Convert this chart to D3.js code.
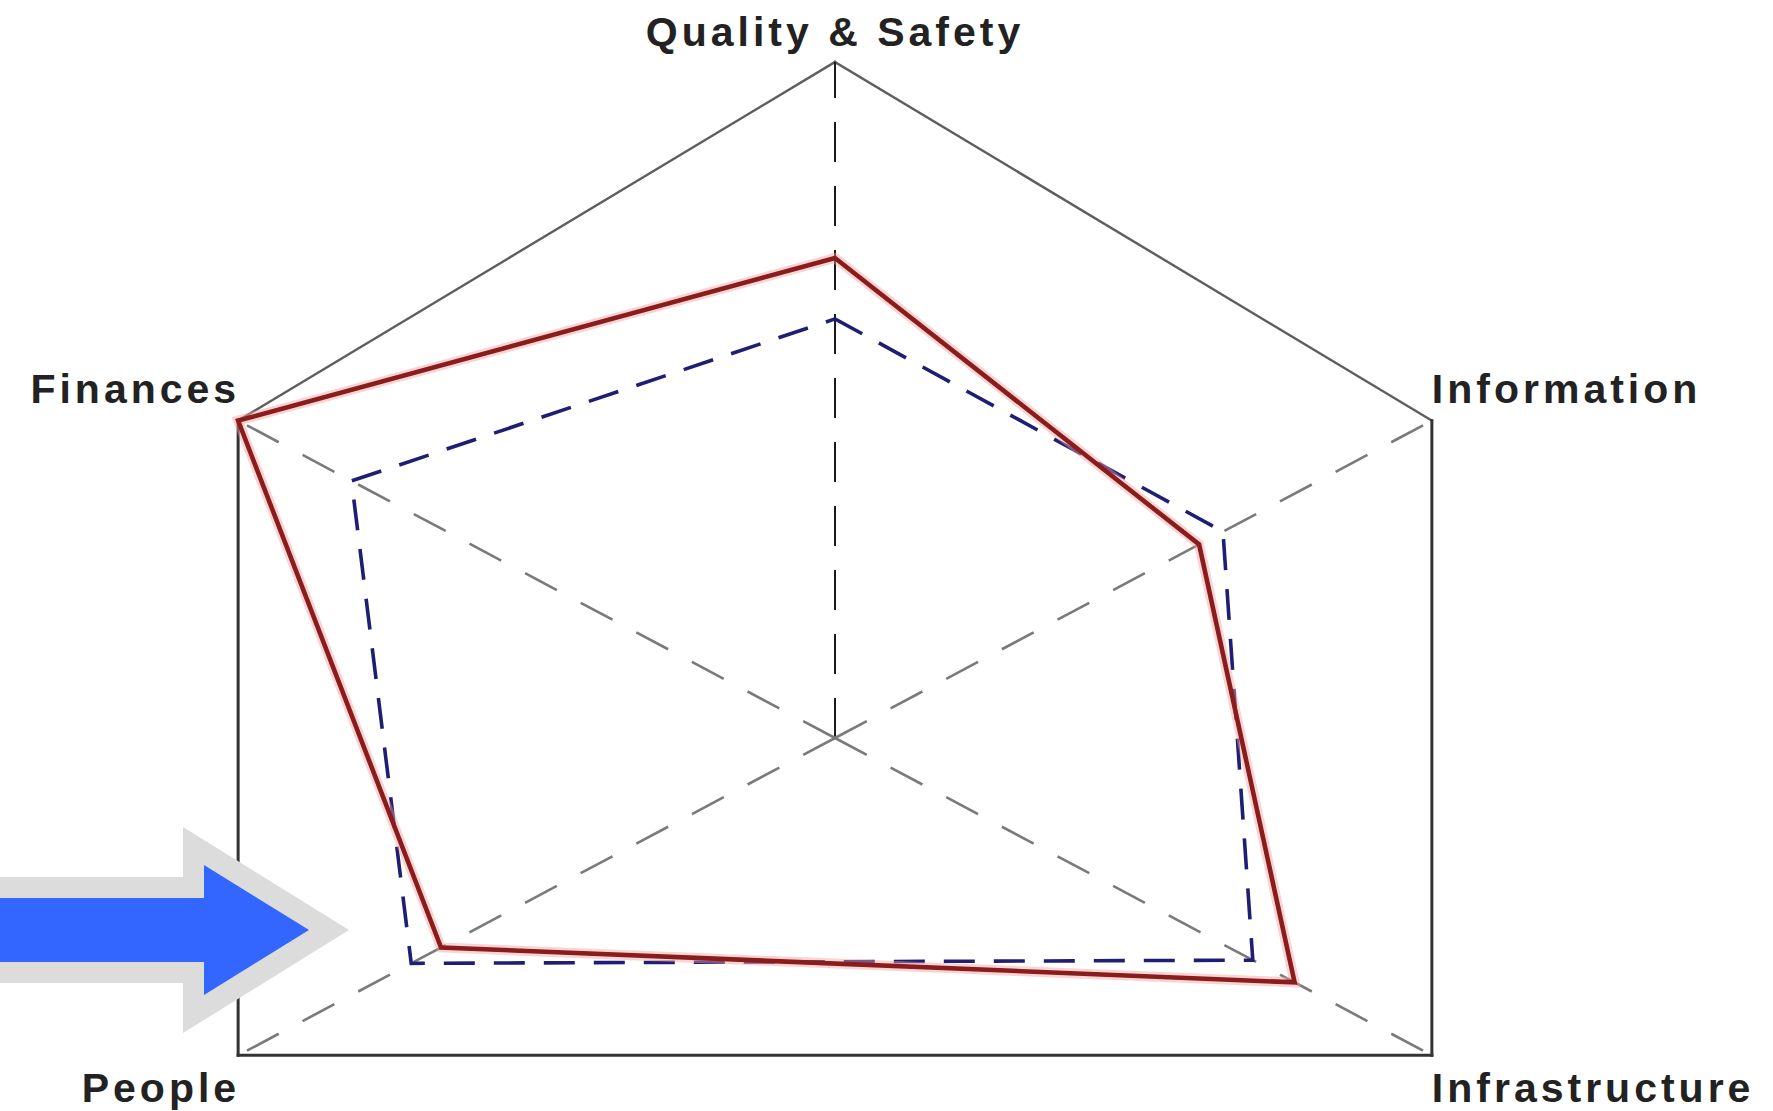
<!DOCTYPE html>
<html>
<head>
<meta charset="utf-8">
<script src="https://cdn.jsdelivr.net/npm/d3@7"></script>
<style>
  html, body { margin: 0; padding: 0; background: #fff; }
  svg { display: block; }
  .label { font-family: "Liberation Sans", Arial, sans-serif; font-weight: bold; font-size: 41px; fill: #222; letter-spacing: 4px; }
</style>
</head>
<body>
<div id="chart"></div>
<script>
// data
var axes = ["Quality & Safety", "Information", "Infrastructure", "People", "Finances"];
var seriesRed = [71, 61, 77, 66, 100];
var seriesBlue = [62, 65, 70, 71, 81];
var maxValue = 100;

// layout (the original grid is not a regular pentagon)
var axisAngles = [0, 62, 118, 242, 298]; // degrees, clockwise from top
var width = 1773, height = 1111;
var cx = 835, cy = 738, radius = 676;

var svg = d3.select("#chart").append("svg")
    .attr("width", width)
    .attr("height", height);

var r = d3.scaleLinear().domain([0, maxValue]).range([0, radius]);
var angle = function(i) { return axisAngles[i] * Math.PI / 180; };
var px = function(v, i) { return r(v) * Math.sin(angle(i)); };
var py = function(v, i) { return -r(v) * Math.cos(angle(i)); };

var g = svg.append("g").attr("transform", "translate(" + cx + "," + cy + ")");

//Outer frame, one edge at a time (top edges are lighter in the original)
g.selectAll(".edge").data(axes).enter().append("line")
    .attr("class", "edge")
    .attr("x1", function(d, i) { return px(maxValue, i); })
    .attr("y1", function(d, i) { return py(maxValue, i); })
    .attr("x2", function(d, i) { return px(maxValue, (i + 1) % axes.length); })
    .attr("y2", function(d, i) { return py(maxValue, (i + 1) % axes.length); })
    .attr("stroke", function(d, i) { return (i === 0 || i === axes.length - 1) ? "#5e5e5e" : "#333"; })
    .attr("stroke-width", function(d, i) { return (i === 0 || i === axes.length - 1) ? 2.4 : 3; })
    .attr("stroke-linecap", "square");

//Dashed spokes
g.selectAll(".spoke").data(axes).enter().append("line")
    .attr("class", "spoke")
    .attr("x1", 0).attr("y1", 0)
    .attr("x2", function(d, i) { return px(maxValue, i); })
    .attr("y2", function(d, i) { return py(maxValue, i); })
    .attr("stroke", function(d, i) { return i === 0 ? "#1a1a1a" : "#7a7a7a"; })
    .attr("stroke-width", function(d, i) { return i === 0 ? 2 : 2.6; })
    .attr("stroke-dasharray", function(d, i) { return i === 0 ? "40,24" : "36,27"; });

//Series
var line = d3.lineRadial()
    .angle(function(d, i) { return angle(i); })
    .radius(function(d) { return r(d); })
    .curve(d3.curveLinearClosed);

g.append("path")
    .attr("d", line(seriesBlue))
    .attr("fill", "none")
    .attr("stroke", "#1e1e74")
    .attr("stroke-width", 3.6)
    .attr("stroke-dasharray", "31,19");

g.append("path")
    .attr("d", line(seriesRed))
    .attr("fill", "none")
    .attr("stroke", "#f2a0a0")
    .attr("stroke-opacity", 0.45)
    .attr("stroke-width", 10)
    .attr("stroke-linejoin", "miter");

g.append("path")
    .attr("d", line(seriesRed))
    .attr("fill", "none")
    .attr("stroke", "#8a1c1c")
    .attr("stroke-width", 4.6)
    .attr("stroke-linejoin", "miter");

//Axis labels
var labelPos = [
    { dx: 0, dy: -16, anchor: "middle" },
    { dx: 0, dy: -18, anchor: "start" },
    { dx: 0, dy: 47, anchor: "start" },
    { dx: 2, dy: 47, anchor: "end" },
    { dx: 2, dy: -18, anchor: "end" }
];

g.selectAll(".label").data(axes).enter().append("text")
    .attr("class", "label")
    .attr("x", function(d, i) { return px(maxValue, i) + labelPos[i].dx; })
    .attr("y", function(d, i) { return py(maxValue, i) + labelPos[i].dy; })
    .attr("text-anchor", function(d, i) { return labelPos[i].anchor; })
    .text(function(d) { return d; });

//Pointer arrow on the left
var arrowOuter = [[0, 877], [183, 877], [183, 827], [349, 930], [183, 1033], [183, 983], [0, 983]];
var arrowInner = [[0, 898], [204, 898], [204, 865], [309, 930], [204, 995], [204, 962], [0, 962]];

svg.append("path")
    .attr("d", d3.line()(arrowOuter) + "Z")
    .attr("fill", "#dcdcdc");

svg.append("path")
    .attr("d", d3.line()(arrowInner) + "Z")
    .attr("fill", "#3366ff");
</script>
</body>
</html>
